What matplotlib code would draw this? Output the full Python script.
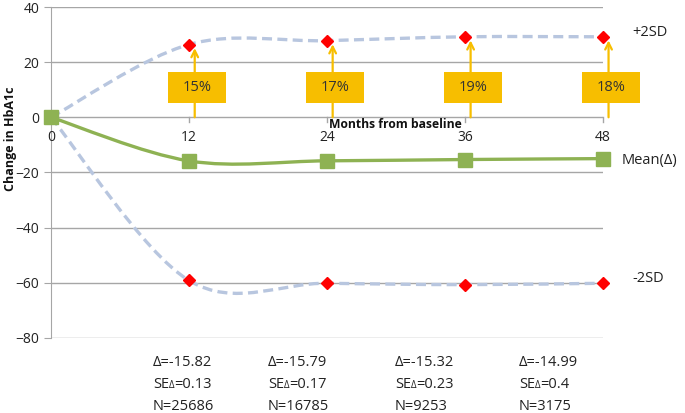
import numpy as np
import matplotlib
matplotlib.use('Agg')
import matplotlib.pyplot as plt
from matplotlib.path import Path
from matplotlib.patches import PathPatch, Rectangle

plt.rcParams['font.family'] = ['Open Sans', 'DejaVu Sans']

months = [0, 12, 24, 36, 48]
mean_delta = [0, -15.82, -15.79, -15.32, -14.99]
plus_2sd = [0, 26.4, 27.8, 29.2, 29.2]
minus_2sd = [0, -59.2, -60.2, -60.7, -60.2]
pct_labels = ['15%', '17%', '19%', '18%']
se_vals = ['0.13', '0.17', '0.23', '0.4']
n_vals = ['25686', '16785', '9253', '3175']

GREEN = '#8EB253'
DASH = '#B8C6DF'
GOLD = '#F7BE00'
GRID = '#A6A6A6'
TXT = '#222222'


def smooth_path(xs, ys):
    # Excel-style smoothed line: cubic Bezier with Catmull-Rom control points
    pts = np.column_stack([xs, ys]).astype(float)
    n = len(pts)
    verts = [pts[0]]
    codes = [Path.MOVETO]
    for i in range(n - 1):
        p0 = pts[i - 1] if i > 0 else pts[i]
        p1, p2 = pts[i], pts[i + 1]
        p3 = pts[i + 2] if i + 2 < n else pts[i + 1]
        c1 = p1 + (p2 - p0) / 6
        c2 = p2 - (p3 - p1) / 6
        verts += [c1, c2, p2]
        codes += [Path.CURVE4] * 3
    return Path(verts, codes)


fig = plt.figure(figsize=(6.85, 4.13), dpi=100)
ax = fig.add_axes([0.0745, 0.182, 0.8055, 0.801])
ax.set_xlim(0, 48)
ax.set_ylim(-80, 40)

for y in range(-80, 41, 20):
    ax.axhline(y, color=GRID, lw=1.0, zorder=1)

for ys in (plus_2sd, minus_2sd):
    ax.add_patch(PathPatch(smooth_path(months, ys), fill=False, ec=DASH, lw=2.4,
                           ls=(0, (3, 1.6)), zorder=2))
ax.add_patch(PathPatch(smooth_path(months, mean_delta), fill=False, ec=GREEN,
                       lw=2.4, zorder=3))

ax.plot(months, mean_delta, ls='none', marker='s', ms=10, color=GREEN, zorder=4, clip_on=False)
ax.plot(months[1:], plus_2sd[1:], ls='none', marker='D', ms=6.5, color='#FF0000', zorder=4, clip_on=False)
ax.plot(months[1:], minus_2sd[1:], ls='none', marker='D', ms=6.5, color='#FF0000', zorder=4, clip_on=False)

# callout boxes with arrows
for m, top, lab in zip(months[1:], plus_2sd[1:], pct_labels):
    ax.annotate('', xy=(m + 0.5, top - 1.3), xytext=(m + 0.5, 0),
                arrowprops=dict(arrowstyle='->', color=GOLD, lw=1.6,
                                mutation_scale=12, shrinkA=0, shrinkB=0),
                zorder=5, annotation_clip=False)
    ax.add_patch(Rectangle((m + 0.7 - 2.5, 5.1), 5.0, 11.2, fc=GOLD, ec='none',
                           zorder=6, clip_on=False))
    ax.text(m + 0.7, 10.7, lab, ha='center', va='center', fontsize=10.5,
            color='#333333', zorder=7)

# axes styling
for s in ('top', 'right', 'bottom'):
    ax.spines[s].set_visible(False)
ax.spines['left'].set_color(GRID)
ax.set_yticks(range(-80, 41, 20))
ax.tick_params(axis='y', colors=GRID, length=5, labelsize=10, labelcolor=TXT)
ax.set_xticks(months)
ax.set_xticklabels([])
ax.tick_params(axis='x', length=0)
for m in months[1:]:
    ax.plot([m, m], [0, -1.6], color=GRID, lw=1.0, zorder=1, clip_on=False)
for m in months:
    ax.text(m, -7.5, str(m), ha='center', va='center', fontsize=10, color=TXT)

ax.text(24.2, -0.4, 'Months from baseline', ha='left', va='top', fontsize=8.7,
        fontweight='bold', color='#111111')
fig.text(0.015, 0.664, 'Change in HbA1c', rotation=90, ha='center', va='center',
         fontsize=9, fontweight='bold', color='#111111')

# series labels on the right
fig.text(632 / 685, 1 - 33 / 413, '+2SD', ha='left', va='center', fontsize=10.5, color=TXT)
fig.text(622 / 685, 1 - 160 / 413, 'Mean(Δ)', ha='left', va='center', fontsize=10.5, color=TXT)
fig.text(632 / 685, 1 - 278 / 413, '-2SD', ha='left', va='center', fontsize=10.5, color=TXT)

# stats under the chart
stat_x = [153, 268, 395, 519]
for px, d, se, n in zip(stat_x, mean_delta[1:], se_vals, n_vals):
    fx = px / 685
    fig.text(fx, 1 - 363 / 413, 'Δ=%.2f' % d, ha='left', va='center', fontsize=10.5, color=TXT)
    t_se = fig.text(fx, 1 - 385 / 413, 'SE', ha='left', va='center', fontsize=10.5, color=TXT)
    sub = plt.annotate('Δ', xy=(1, 0.1), xycoords=t_se, ha='left', va='bottom',
                       fontsize=7, color=TXT)
    plt.annotate('=' + se, xy=(1, 0), xycoords=(sub, t_se), ha='left', va='bottom',
                 fontsize=10.5, color=TXT)
    fig.text(fx, 1 - 406 / 413, 'N=' + n, ha='left', va='center', fontsize=10.5, color=TXT)

fig.savefig('out.png', dpi=100)
